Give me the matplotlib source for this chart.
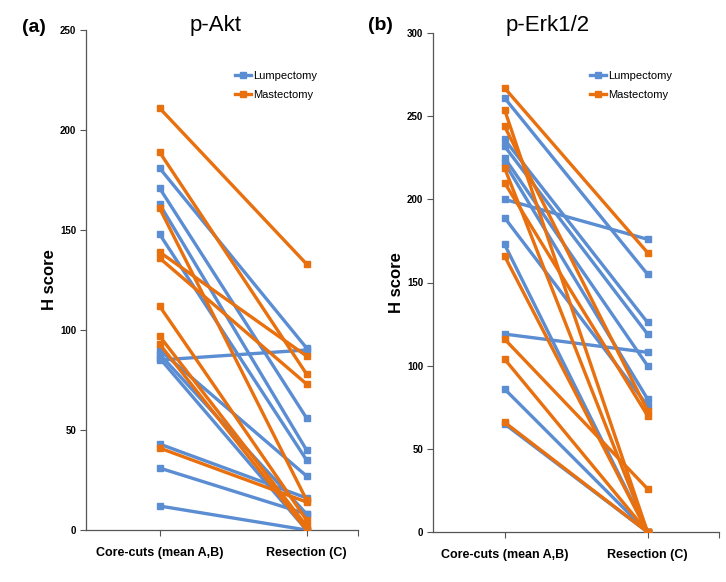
import matplotlib
matplotlib.use("Agg")
import matplotlib.pyplot as plt
from matplotlib.lines import Line2D

plt.rcParams["font.family"] = ["Liberation Sans", "DejaVu Sans"]

BLUE = "#5B8DD3"
ORANGE = "#E8700F"

categories = ["Core-cuts (mean A,B)", "Resection (C)"]

# p-Akt: (core-cut, resection) pairs
akt_lump_core = [181, 171, 163, 148, 90, 88, 86, 85, 43, 31, 12]
akt_lump_res = [91, 56, 40, 35, 27, 8, 0, 90, 16, 8, 0]
akt_mast_core = [211, 189, 161, 139, 136, 112, 97, 93, 41]
akt_mast_res = [133, 78, 15, 87, 73, 5, 2, 0, 14]

# p-Erk1/2
erk_lump_core = [261, 236, 232, 225, 222, 200, 189, 173, 119, 86, 65]
erk_lump_res = [155, 126, 119, 100, 80, 176, 76, 0, 108, 0, 0]
erk_mast_core = [267, 254, 244, 219, 210, 166, 116, 104, 66]
erk_mast_res = [168, 0, 73, 0, 70, 0, 26, 0, 0]


def draw_panel(ax, lump_core, lump_res, mast_core, mast_res, ymax, ystep, xmax, leg_xy):
    xs = [0, 1]
    for a, b in zip(lump_core, lump_res):
        ax.plot(xs, [a, b], color=BLUE, lw=2.4, marker="s", ms=5, zorder=3)
    for a, b in zip(mast_core, mast_res):
        ax.plot(xs, [a, b], color=ORANGE, lw=2.4, marker="s", ms=5, zorder=3)
    ax.set_xlim(-0.5, xmax)
    ax.set_ylim(0, ymax)
    ax.set_yticks(range(0, ymax + 1, ystep))
    ax.set_xticks([0, 1, xmax])
    ax.set_xticklabels(categories + [""], fontsize=9, fontweight="bold")
    for lab in ax.get_yticklabels():
        lab.set_fontsize(7)
        lab.set_fontweight("bold")
    ax.tick_params(axis="y", length=4, width=0.8, color="#555555", pad=3)
    ax.tick_params(axis="x", length=4, width=0.8, color="#555555", pad=8)
    for side in ["top", "right"]:
        ax.spines[side].set_visible(False)
    for side in ["left", "bottom"]:
        ax.spines[side].set_color("#555555")
        ax.spines[side].set_linewidth(0.9)
    ax.set_ylabel("H score", fontsize=12, fontweight="bold", labelpad=2)
    handles = [
        Line2D([], [], color=BLUE, lw=2.4, marker="s", ms=5),
        Line2D([], [], color=ORANGE, lw=2.4, marker="s", ms=5),
    ]
    ax.legend(handles, ["Lumpectomy", "Mastectomy"], loc="upper left",
              bbox_to_anchor=leg_xy, frameon=False, fontsize=8,
              borderaxespad=0, borderpad=0,
              handlelength=1.4, handletextpad=0.2, labelspacing=0.8)


fig = plt.figure(figsize=(7.26, 5.82), dpi=100)

ax1 = fig.add_axes([86 / 726, 1 - 530 / 582, 272 / 726, 500 / 582])
draw_panel(ax1, akt_lump_core, akt_lump_res, akt_mast_core, akt_mast_res,
           250, 50, 1.35, (0.548, 0.918))

ax2 = fig.add_axes([433 / 726, 1 - 532 / 582, 286 / 726, 499 / 582])
draw_panel(ax2, erk_lump_core, erk_lump_res, erk_mast_core, erk_mast_res,
           300, 50, 1.5, (0.549, 0.924))

fig.text(216 / 726, 1 - 25 / 582, "p-Akt", fontsize=16, ha="center", va="center")
fig.text(548 / 726, 1 - 25 / 582, "p-Erk1/2", fontsize=16, ha="center", va="center")
fig.text(22 / 726, 1 - 28 / 582, "(a)", fontsize=14, fontweight="bold", va="center")
fig.text(368 / 726, 1 - 26 / 582, "(b)", fontsize=14, fontweight="bold", va="center")

fig.savefig("out.png", dpi=100)
